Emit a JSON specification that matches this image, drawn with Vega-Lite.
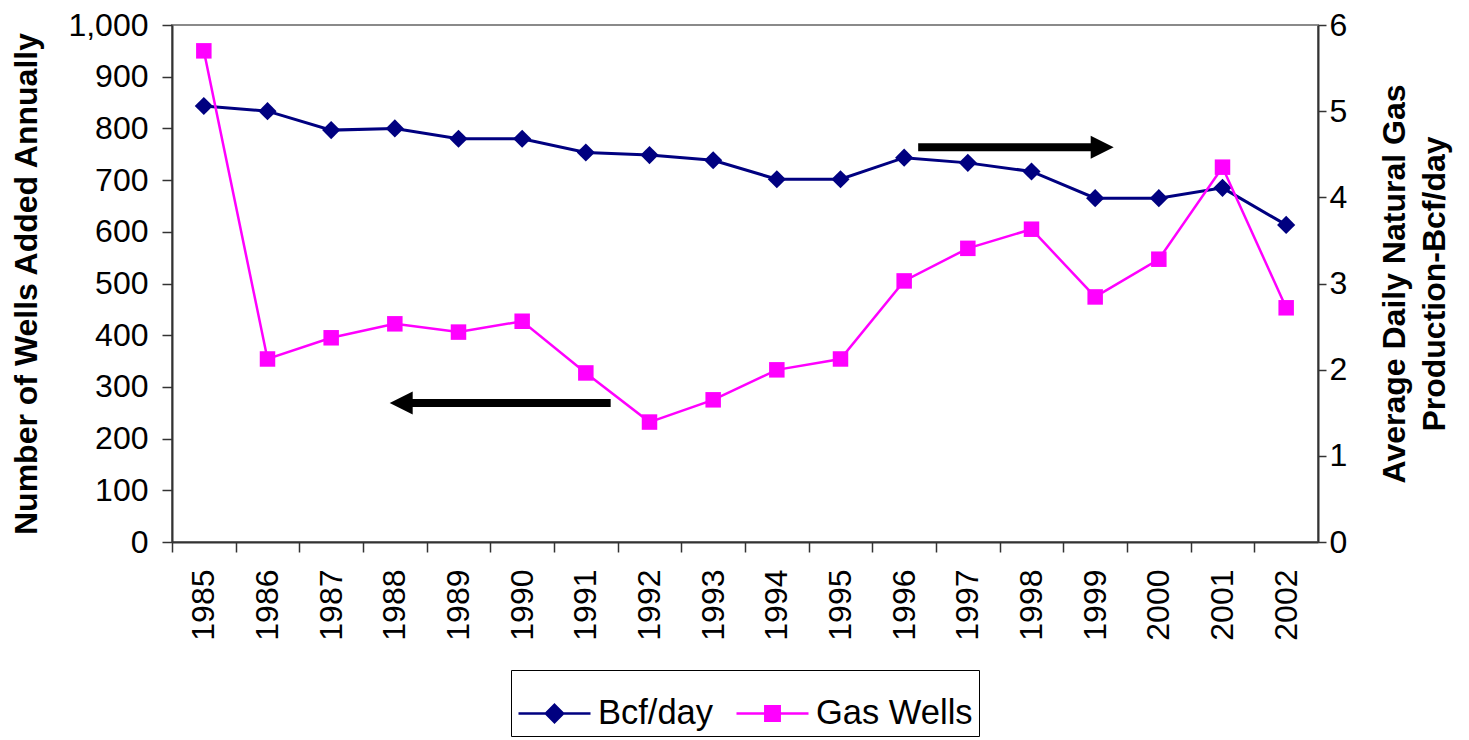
{
  "$schema": "https://vega.github.io/schema/vega-lite/v6.json",
  "width": 1146,
  "height": 517,
  "autosize": {"type": "none"},
  "padding": {"left": 172, "top": 25, "right": 151, "bottom": 198},
  "background": "white",
  "config": {
    "font": "Liberation Sans",
    "view": {"stroke": "#8a8a8a", "strokeWidth": 2},
    "axis": {"grid": false, "domainColor": "#333333", "domainWidth": 2, "tickColor": "#333333", "tickWidth": 1.5, "labelColor": "black", "titleColor": "black", "labelFontSize": 32, "titleFontSize": 32, "titleFontWeight": "bold"}
  },
  "datasets": {
    "series": [
      {"year": 1985, "series": "Bcf/day", "value": 5.06},
      {"year": 1986, "series": "Bcf/day", "value": 5.0},
      {"year": 1987, "series": "Bcf/day", "value": 4.78},
      {"year": 1988, "series": "Bcf/day", "value": 4.8},
      {"year": 1989, "series": "Bcf/day", "value": 4.68},
      {"year": 1990, "series": "Bcf/day", "value": 4.68},
      {"year": 1991, "series": "Bcf/day", "value": 4.52},
      {"year": 1992, "series": "Bcf/day", "value": 4.49},
      {"year": 1993, "series": "Bcf/day", "value": 4.43},
      {"year": 1994, "series": "Bcf/day", "value": 4.21},
      {"year": 1995, "series": "Bcf/day", "value": 4.21},
      {"year": 1996, "series": "Bcf/day", "value": 4.46},
      {"year": 1997, "series": "Bcf/day", "value": 4.4},
      {"year": 1998, "series": "Bcf/day", "value": 4.3},
      {"year": 1999, "series": "Bcf/day", "value": 3.99},
      {"year": 2000, "series": "Bcf/day", "value": 3.99},
      {"year": 2001, "series": "Bcf/day", "value": 4.11},
      {"year": 2002, "series": "Bcf/day", "value": 3.68},
      {"year": 1985, "series": "Gas Wells", "value": 950},
      {"year": 1986, "series": "Gas Wells", "value": 354},
      {"year": 1987, "series": "Gas Wells", "value": 395},
      {"year": 1988, "series": "Gas Wells", "value": 422},
      {"year": 1989, "series": "Gas Wells", "value": 406},
      {"year": 1990, "series": "Gas Wells", "value": 427},
      {"year": 1991, "series": "Gas Wells", "value": 327},
      {"year": 1992, "series": "Gas Wells", "value": 232},
      {"year": 1993, "series": "Gas Wells", "value": 275},
      {"year": 1994, "series": "Gas Wells", "value": 333},
      {"year": 1995, "series": "Gas Wells", "value": 354},
      {"year": 1996, "series": "Gas Wells", "value": 505},
      {"year": 1997, "series": "Gas Wells", "value": 568},
      {"year": 1998, "series": "Gas Wells", "value": 605},
      {"year": 1999, "series": "Gas Wells", "value": 474},
      {"year": 2000, "series": "Gas Wells", "value": 547},
      {"year": 2001, "series": "Gas Wells", "value": 725},
      {"year": 2002, "series": "Gas Wells", "value": 453}
    ],
    "arrows": [
      {"dir": "left", "tail": 1991.39, "head": 1988.1, "value": 269},
      {"dir": "right", "tail": 1996.22, "head": 1999.11, "value": 4.58}
    ]
  },
  "layer": [
    {
      "encoding": {
        "y": {
          "field": "value", "type": "quantitative",
          "scale": {"domain": [0, 6], "nice": false, "zero": true},
          "axis": {
            "orient": "right", "values": [0, 1, 2, 3, 4, 5, 6], "tickSize": 8, "labelPadding": 3,
            "title": ["Average Daily Natural Gas", "Production-Bcf/day"],
            "titleAngle": 270, "titleBaseline": "top", "titleLineHeight": 40, "titlePadding": -7
          }
        }
      },
      "layer": [
        {
          "data": {"name": "series"},
          "transform": [{"filter": "datum.series === 'Bcf/day'"}],
          "mark": {"type": "line", "strokeWidth": 3},
          "encoding": {
            "x": {"field": "year", "type": "quantitative", "scale": {"domain": [1984.5, 2002.5], "nice": false, "zero": false},
              "axis": {"orient": "bottom", "title": null, "values": [1985,1986,1987,1988,1989,1990,1991,1992,1993,1994,1995,1996,1997,1998,1999,2000,2001,2002], "format": "d", "labelAngle": 270, "labelAlign": "right", "labelBaseline": "middle", "tickSize": 10, "labelPadding": 17, "tickOffset": -31.83, "labelOffset": 31.83, "labelFlush": false, "labelOverlap": false, "labelBound": false}},
            "color": {"field": "series", "type": "nominal", "scale": {"domain": ["Bcf/day", "Gas Wells"], "range": ["#000080", "#FF00FF"]},
              "legend": {"orient": "none", "legendX": 339, "legendY": 645, "direction": "horizontal", "title": null, "padding": 6, "strokeColor": "black", "fillColor": "white", "labelFontSize": 34.5, "labelFont": "Liberation Sans", "labelColor": "black", "labelLimit": 400, "columnPadding": 17, "labelOffset": 6, "symbolSize": 5184,
                "encode": {"symbols": {"update": {
                  "shape": {"signal": "datum.value === 'Bcf/day' ? 'M-1,0H1M0,-0.24L0.24,0L0,0.24L-0.24,0Z' : 'M-1,0H1M-0.2,-0.2H0.2V0.2H-0.2Z'"},
                  "fill": {"signal": "datum.value === 'Bcf/day' ? '#000080' : '#FF00FF'"},
                  "stroke": {"signal": "datum.value === 'Bcf/day' ? '#000080' : '#FF00FF'"},
                  "strokeWidth": {"value": 2.5},
                  "size": {"value": 5184},
                  "opacity": {"value": 1},
                  "fillOpacity": {"value": 1},
                  "strokeOpacity": {"value": 1}
                }}}}}
          }
        },
        {
          "data": {"name": "series"},
          "transform": [{"filter": "datum.series === 'Bcf/day'"}],
          "mark": {"type": "point", "shape": "diamond", "filled": true, "size": 330, "opacity": 1},
          "encoding": {
            "x": {"field": "year", "type": "quantitative", "scale": {"domain": [1984.5, 2002.5], "nice": false, "zero": false},
              "axis": {"orient": "bottom", "title": null, "values": [1985,1986,1987,1988,1989,1990,1991,1992,1993,1994,1995,1996,1997,1998,1999,2000,2001,2002], "format": "d", "labelAngle": 270, "labelAlign": "right", "labelBaseline": "middle", "tickSize": 10, "labelPadding": 17, "tickOffset": -31.83, "labelOffset": 31.83, "labelFlush": false, "labelOverlap": false, "labelBound": false}},
            "color": {"field": "series", "type": "nominal", "scale": {"domain": ["Bcf/day", "Gas Wells"], "range": ["#000080", "#FF00FF"]},
              "legend": {"orient": "none", "legendX": 339, "legendY": 645, "direction": "horizontal", "title": null, "padding": 6, "strokeColor": "black", "fillColor": "white", "labelFontSize": 34.5, "labelFont": "Liberation Sans", "labelColor": "black", "labelLimit": 400, "columnPadding": 17, "labelOffset": 6, "symbolSize": 5184,
                "encode": {"symbols": {"update": {
                  "shape": {"signal": "datum.value === 'Bcf/day' ? 'M-1,0H1M0,-0.24L0.24,0L0,0.24L-0.24,0Z' : 'M-1,0H1M-0.2,-0.2H0.2V0.2H-0.2Z'"},
                  "fill": {"signal": "datum.value === 'Bcf/day' ? '#000080' : '#FF00FF'"},
                  "stroke": {"signal": "datum.value === 'Bcf/day' ? '#000080' : '#FF00FF'"},
                  "strokeWidth": {"value": 2.5},
                  "size": {"value": 5184},
                  "opacity": {"value": 1},
                  "fillOpacity": {"value": 1},
                  "strokeOpacity": {"value": 1}
                }}}}}
          }
        },
        {
          "data": {"name": "arrows"},
          "transform": [{"filter": "datum.dir === 'right'"}],
          "mark": {"type": "rule", "color": "black", "strokeWidth": 8, "strokeCap": "butt"},
          "encoding": {
            "x": {"field": "tail", "type": "quantitative", "scale": {"domain": [1984.5, 2002.5], "nice": false, "zero": false},
              "axis": {"orient": "bottom", "title": null, "values": [1985,1986,1987,1988,1989,1990,1991,1992,1993,1994,1995,1996,1997,1998,1999,2000,2001,2002], "format": "d", "labelAngle": 270, "labelAlign": "right", "labelBaseline": "middle", "tickSize": 10, "labelPadding": 17, "tickOffset": -31.83, "labelOffset": 31.83, "labelFlush": false, "labelOverlap": false, "labelBound": false}},
            "x2": {"field": "head"}
          }
        },
        {
          "data": {"name": "arrows"},
          "transform": [{"filter": "datum.dir === 'right'"}],
          "mark": {"type": "point", "shape": "M1,0L-1,-1L-1,1Z", "filled": true, "size": 529, "color": "black", "opacity": 1},
          "encoding": {
            "x": {"field": "head", "type": "quantitative", "scale": {"domain": [1984.5, 2002.5], "nice": false, "zero": false},
              "axis": {"orient": "bottom", "title": null, "values": [1985,1986,1987,1988,1989,1990,1991,1992,1993,1994,1995,1996,1997,1998,1999,2000,2001,2002], "format": "d", "labelAngle": 270, "labelAlign": "right", "labelBaseline": "middle", "tickSize": 10, "labelPadding": 17, "tickOffset": -31.83, "labelOffset": 31.83, "labelFlush": false, "labelOverlap": false, "labelBound": false}}
          }
        }
      ]
    },
    {
      "encoding": {
        "y": {
          "field": "value", "type": "quantitative",
          "scale": {"domain": [0, 1000], "nice": false, "zero": true},
          "axis": {
            "orient": "left", "values": [0, 100, 200, 300, 400, 500, 600, 700, 800, 900, 1000], "format": ",d", "tickSize": 10, "labelPadding": 14,
            "title": "Number of Wells Added Annually",
            "titleAngle": 270, "titleBaseline": "bottom", "titlePadding": 24
          }
        }
      },
      "layer": [
        {
          "data": {"name": "series"},
          "transform": [{"filter": "datum.series === 'Gas Wells'"}],
          "mark": {"type": "line", "strokeWidth": 2.5},
          "encoding": {
            "x": {"field": "year", "type": "quantitative", "scale": {"domain": [1984.5, 2002.5], "nice": false, "zero": false},
              "axis": {"orient": "bottom", "title": null, "values": [1985,1986,1987,1988,1989,1990,1991,1992,1993,1994,1995,1996,1997,1998,1999,2000,2001,2002], "format": "d", "labelAngle": 270, "labelAlign": "right", "labelBaseline": "middle", "tickSize": 10, "labelPadding": 17, "tickOffset": -31.83, "labelOffset": 31.83, "labelFlush": false, "labelOverlap": false, "labelBound": false}},
            "color": {"field": "series", "type": "nominal", "scale": {"domain": ["Bcf/day", "Gas Wells"], "range": ["#000080", "#FF00FF"]},
              "legend": {"orient": "none", "legendX": 339, "legendY": 645, "direction": "horizontal", "title": null, "padding": 6, "strokeColor": "black", "fillColor": "white", "labelFontSize": 34.5, "labelFont": "Liberation Sans", "labelColor": "black", "labelLimit": 400, "columnPadding": 17, "labelOffset": 6, "symbolSize": 5184,
                "encode": {"symbols": {"update": {
                  "shape": {"signal": "datum.value === 'Bcf/day' ? 'M-1,0H1M0,-0.24L0.24,0L0,0.24L-0.24,0Z' : 'M-1,0H1M-0.2,-0.2H0.2V0.2H-0.2Z'"},
                  "fill": {"signal": "datum.value === 'Bcf/day' ? '#000080' : '#FF00FF'"},
                  "stroke": {"signal": "datum.value === 'Bcf/day' ? '#000080' : '#FF00FF'"},
                  "strokeWidth": {"value": 2.5},
                  "size": {"value": 5184},
                  "opacity": {"value": 1},
                  "fillOpacity": {"value": 1},
                  "strokeOpacity": {"value": 1}
                }}}}}
          }
        },
        {
          "data": {"name": "series"},
          "transform": [{"filter": "datum.series === 'Gas Wells'"}],
          "mark": {"type": "point", "shape": "square", "filled": true, "size": 240, "opacity": 1},
          "encoding": {
            "x": {"field": "year", "type": "quantitative", "scale": {"domain": [1984.5, 2002.5], "nice": false, "zero": false},
              "axis": {"orient": "bottom", "title": null, "values": [1985,1986,1987,1988,1989,1990,1991,1992,1993,1994,1995,1996,1997,1998,1999,2000,2001,2002], "format": "d", "labelAngle": 270, "labelAlign": "right", "labelBaseline": "middle", "tickSize": 10, "labelPadding": 17, "tickOffset": -31.83, "labelOffset": 31.83, "labelFlush": false, "labelOverlap": false, "labelBound": false}},
            "color": {"field": "series", "type": "nominal", "scale": {"domain": ["Bcf/day", "Gas Wells"], "range": ["#000080", "#FF00FF"]},
              "legend": {"orient": "none", "legendX": 339, "legendY": 645, "direction": "horizontal", "title": null, "padding": 6, "strokeColor": "black", "fillColor": "white", "labelFontSize": 34.5, "labelFont": "Liberation Sans", "labelColor": "black", "labelLimit": 400, "columnPadding": 17, "labelOffset": 6, "symbolSize": 5184,
                "encode": {"symbols": {"update": {
                  "shape": {"signal": "datum.value === 'Bcf/day' ? 'M-1,0H1M0,-0.24L0.24,0L0,0.24L-0.24,0Z' : 'M-1,0H1M-0.2,-0.2H0.2V0.2H-0.2Z'"},
                  "fill": {"signal": "datum.value === 'Bcf/day' ? '#000080' : '#FF00FF'"},
                  "stroke": {"signal": "datum.value === 'Bcf/day' ? '#000080' : '#FF00FF'"},
                  "strokeWidth": {"value": 2.5},
                  "size": {"value": 5184},
                  "opacity": {"value": 1},
                  "fillOpacity": {"value": 1},
                  "strokeOpacity": {"value": 1}
                }}}}}
          }
        },
        {
          "data": {"name": "arrows"},
          "transform": [{"filter": "datum.dir === 'left'"}],
          "mark": {"type": "rule", "color": "black", "strokeWidth": 8, "strokeCap": "butt"},
          "encoding": {
            "x": {"field": "tail", "type": "quantitative", "scale": {"domain": [1984.5, 2002.5], "nice": false, "zero": false},
              "axis": {"orient": "bottom", "title": null, "values": [1985,1986,1987,1988,1989,1990,1991,1992,1993,1994,1995,1996,1997,1998,1999,2000,2001,2002], "format": "d", "labelAngle": 270, "labelAlign": "right", "labelBaseline": "middle", "tickSize": 10, "labelPadding": 17, "tickOffset": -31.83, "labelOffset": 31.83, "labelFlush": false, "labelOverlap": false, "labelBound": false}},
            "x2": {"field": "head"}
          }
        },
        {
          "data": {"name": "arrows"},
          "transform": [{"filter": "datum.dir === 'left'"}],
          "mark": {"type": "point", "shape": "M-1,0L1,-1L1,1Z", "filled": true, "size": 529, "color": "black", "opacity": 1},
          "encoding": {
            "x": {"field": "head", "type": "quantitative", "scale": {"domain": [1984.5, 2002.5], "nice": false, "zero": false},
              "axis": {"orient": "bottom", "title": null, "values": [1985,1986,1987,1988,1989,1990,1991,1992,1993,1994,1995,1996,1997,1998,1999,2000,2001,2002], "format": "d", "labelAngle": 270, "labelAlign": "right", "labelBaseline": "middle", "tickSize": 10, "labelPadding": 17, "tickOffset": -31.83, "labelOffset": 31.83, "labelFlush": false, "labelOverlap": false, "labelBound": false}}
          }
        }
      ]
    }
  ],
  "resolve": {"scale": {"y": "independent"}}
}
